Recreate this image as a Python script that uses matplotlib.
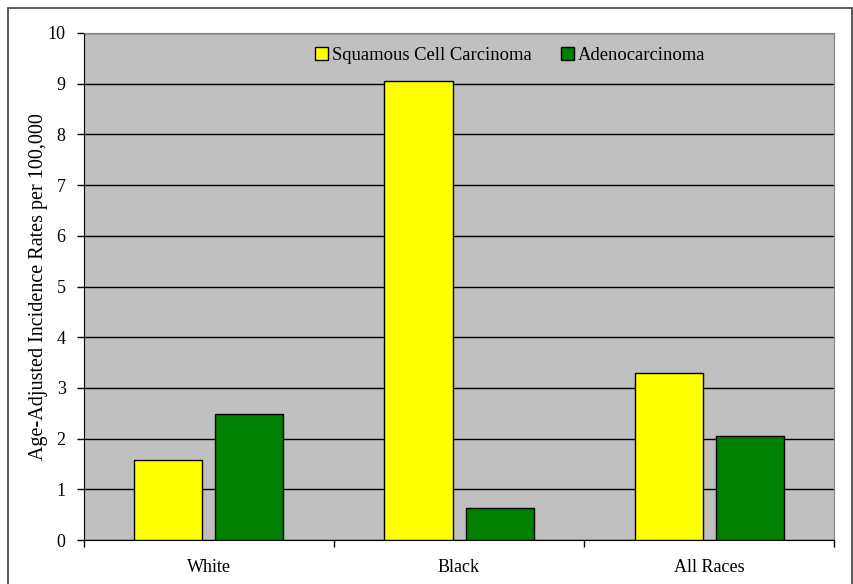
import matplotlib.pyplot as plt
import numpy as np
from matplotlib.patches import Rectangle

categories = ["White", "Black", "All Races"]
squamous = [1.58, 9.06, 3.30]
adeno = [2.49, 0.64, 2.05]
y_ticks = list(range(0, 11))

plt.rcParams["font.family"] = ["Liberation Serif", "DejaVu Serif"]

fig = plt.figure(figsize=(8.54, 5.84), dpi=100)
ax = fig.add_axes([0.098, 0.0753, 0.879, 0.8682])
ax.set_facecolor("#c0c0c0")

x = np.arange(len(categories))
w = 0.272
off = 0.162
ax.bar(x - off, squamous, w, color="#ffff00", edgecolor="black", linewidth=1,
       label="Squamous Cell Carcinoma", zorder=3)
ax.bar(x + off, adeno, w, color="#008000", edgecolor="black", linewidth=1,
       label="Adenocarcinoma", zorder=3)

ax.set_xlim(-0.5, 2.5)
ax.set_ylim(0, 10)
ax.set_yticks(y_ticks)
ax.yaxis.grid(True, color="black", linewidth=1, zorder=1)
ax.set_axisbelow(True)

ax.set_xticks(x)
ax.set_xticklabels(categories, fontsize=13)
ax.tick_params(axis="x", which="major", length=0, pad=14)
ax.set_xticks([-0.5, 0.5, 1.5, 2.5], minor=True)
ax.tick_params(axis="x", which="minor", length=5, direction="out", width=1)
ax.tick_params(axis="y", length=5, direction="out", width=1, labelsize=13, pad=8)

ax.spines["left"].set_color("black")
ax.spines["bottom"].set_color("black")
ax.spines["top"].set_color("#808080")
ax.spines["right"].set_color("#808080")

ax.set_ylabel("Age-Adjusted Incidence Rates per 100,000", fontsize=14.5, labelpad=0)

ax.legend(loc="upper center", bbox_to_anchor=(0.568, 1.005), ncol=2, frameon=False,
          fontsize=13.4, handlelength=0.7, handleheight=0.7, handletextpad=0.2,
          columnspacing=1.6)

fig.patches.append(Rectangle((8 / 854, -0.01), 844 / 854, 1 - 8 / 584 + 0.01,
                             transform=fig.transFigure, fill=False,
                             edgecolor="#404040", linewidth=1.2))

fig.savefig("out.png", dpi=100)
